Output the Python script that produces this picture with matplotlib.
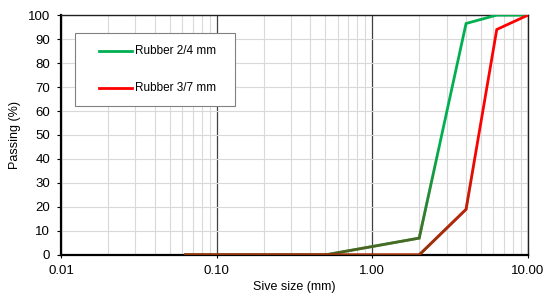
import matplotlib
matplotlib.use("Agg")
import matplotlib.pyplot as plt
from matplotlib.patches import Rectangle
from matplotlib.lines import Line2D
from matplotlib.ticker import FixedLocator, NullFormatter

plt.rcParams['font.family'] = ['Liberation Sans', 'DejaVu Sans']

sieve_mm = [0.063, 0.5, 2.0, 4.0, 6.3, 10.0]
rubber_24 = [0, 0, 7, 96.5, 100, 100]
rubber_37 = [0, 0, 0, 19, 94, 100]
series_names = ['Rubber 2/4 mm', 'Rubber 3/7 mm']
series_colors = ['#00B050', '#FF0000']
x_ticks = [0.01, 0.1, 1, 10]
x_tick_labels = ['0.01', '0.10', '1.00', '10.00']
y_ticks = list(range(0, 101, 10))

fig = plt.figure(figsize=(5.5, 3.02), dpi=100)
ax = fig.add_axes([0.111, 0.156, 0.849, 0.794])
ax.set_xscale('log')
ax.set_xlim(0.01, 10)
ax.set_ylim(0, 100)

minor = [m * 10.0 ** e for e in (-2, -1, 0) for m in range(2, 10)]
ax.xaxis.set_minor_locator(FixedLocator(minor))
ax.xaxis.set_minor_formatter(NullFormatter())
ax.set_xticks(x_ticks)
ax.set_xticklabels(x_tick_labels)
ax.set_yticks(y_ticks)

ax.grid(True, which='minor', axis='x', color='#d9d9d9', lw=0.8)
ax.grid(True, which='major', axis='y', color='#d9d9d9', lw=0.8)
ax.grid(True, which='major', axis='x', color='#404040', lw=0.9)
ax.set_axisbelow(True)

ax.tick_params(axis='y', which='major', direction='out', length=3, width=0.8,
               labelsize=9.5, colors='black', pad=5)
ax.tick_params(axis='x', which='major', direction='out', length=2.2, width=0.8,
               labelsize=9.5, colors='black', pad=5)
ax.tick_params(axis='x', which='minor', length=0)
for s in ['left', 'bottom']:
    ax.spines[s].set_linewidth(1.6)
    ax.spines[s].set_color('black')
for s in ['top', 'right']:
    ax.spines[s].set_linewidth(1.0)
    ax.spines[s].set_color('#202020')

for ys, c, name in zip([rubber_24, rubber_37], series_colors, series_names):
    ax.plot(sieve_mm, ys, color=c, lw=2.0, label=name, solid_joinstyle='miter', zorder=3)
    # darkened lower part (gradient imitation) using clipped overlays
    nb = 12
    for i in range(nb):
        y0 = 45 * i / nb
        y1 = 45 * (i + 1) / nb
        a = 0.75 * (1 - i / nb)
        ov, = ax.plot(sieve_mm, ys, color='#6a4a10', lw=2.0, alpha=a, zorder=3,
                      solid_joinstyle='miter')
        rect = Rectangle((0.001, y0), 1000, y1 - y0, transform=ax.transData)
        ov.set_clip_path(rect)

# legend box drawn in axes coordinates
box = Rectangle((0.030, 0.621), 0.343, 0.304, transform=ax.transAxes,
                facecolor='white', edgecolor='#808080', lw=0.8, zorder=5)
ax.add_patch(box)
for row_y, c, name in zip([0.850, 0.696], series_colors, series_names):
    ax.add_line(Line2D([0.081, 0.152], [row_y, row_y], transform=ax.transAxes,
                       color=c, lw=2.0, zorder=6))
    ax.text(0.158, row_y, name, transform=ax.transAxes, fontsize=8.5,
            va='center', ha='left', zorder=6)

ax.set_xlabel('Sive size (mm)', fontsize=9, labelpad=3)
ax.set_ylabel('Passing (%)', fontsize=9, labelpad=5)

fig.savefig('out.png', dpi=100)
